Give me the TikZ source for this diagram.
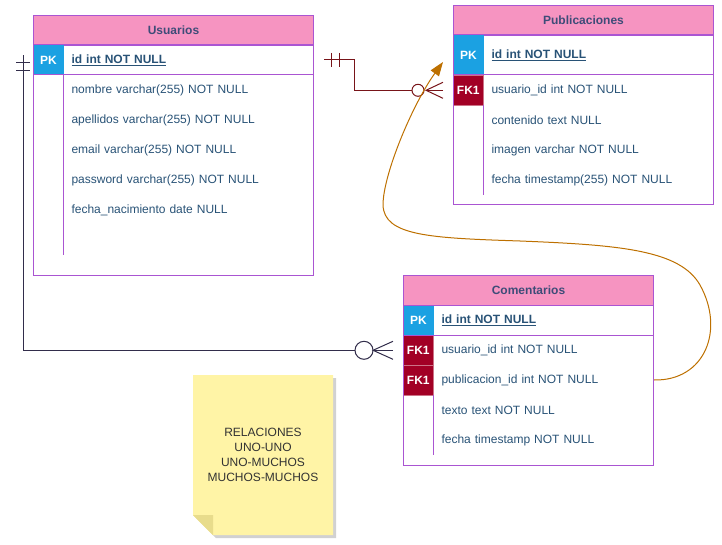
\documentclass[tikz,border=0pt]{standalone}
\usepackage{fontspec}
\setmainfont{Liberation Sans}
\usetikzlibrary{arrows.meta}

\definecolor{tabline}{RGB}{170,85,210}
\definecolor{headpink}{RGB}{246,148,193}
\definecolor{headtext}{RGB}{62,76,120}
\definecolor{rowtext}{RGB}{40,82,118}
\definecolor{pkblue}{RGB}{27,161,226}
\definecolor{fkred}{RGB}{162,0,37}
\definecolor{relred}{RGB}{120,20,25}
\definecolor{relnavy}{RGB}{50,45,75}
\definecolor{relorange}{RGB}{189,112,0}
\definecolor{notefill}{RGB}{255,244,166}
\definecolor{notefold}{RGB}{232,220,140}

\begin{document}
\begin{tikzpicture}[x=1pt, y=-1pt, line width=1pt,
    font=\fontsize{12}{15}\selectfont,
    tabhead/.style={anchor=north west, fill=headpink, draw=tabline, text=headtext,
        font=\fontsize{12}{15}\selectfont\bfseries, minimum height=30pt, inner sep=0pt},
    keycell/.style={anchor=north west, text=white, font=\fontsize{12}{15}\selectfont\bfseries,
        minimum width=30pt, minimum height=30pt, inner sep=0pt},
    pkcell/.style={keycell, fill=pkblue},
    fkcell/.style={keycell, fill=fkred, draw=fkred!55!white, line width=0.6pt},
    fieldrow/.style={anchor=west, text width=#1, align=left, inner xsep=8pt, inner ysep=0pt, text=rowtext},
    keyfield/.style={fieldrow=#1, font=\fontsize{12}{15}\selectfont\bfseries}
]

    % Fix the page to the size of the reference
    \useasboundingbox (0,0) rectangle (722,545);

    % Usuarios table
    \node[tabhead, minimum width=280pt] (usu) at (33,15) {Usuarios};
    \node[pkcell] (usu-pkkey) at (33,45) {PK};
    \node[keyfield=234pt] (usu-id) at (63,60) {\underline{id int NOT NULL}};
    \foreach \field [count=\i] in {nombre varchar(255) NOT NULL, apellidos varchar(255) NOT NULL,
        email varchar(255) NOT NULL, password varchar(255) NOT NULL, fecha\_nacimiento date NULL}
        \node[fieldrow=234pt] (usu-f\i) at (63,60+30*\i) {\field};
    \draw[tabline] (33,45) rectangle (313,275);
    \draw[tabline] (33,75) -- (313,75);
    \draw[tabline] (63,75) -- (63,255);

    % Publicaciones table
    \node[tabhead, minimum width=260pt] (pub) at (453,5) {Publicaciones};
    \node[pkcell, minimum height=40pt] (pub-pkkey) at (453,35) {PK};
    \node[keyfield=214pt] (pub-id) at (483,55) {\underline{id int NOT NULL}};
    \node[fkcell] (pub-fkkey) at (453,75) {FK1};
    \node[fieldrow=214pt] (pub-usuario) at (483,90) {usuario\_id int NOT NULL};
    \foreach \field [count=\i] in {contenido text NULL, imagen varchar NOT NULL, fecha timestamp(255) NOT NULL}
        \node[fieldrow=214pt] (pub-f\i) at (483,90+30*\i) {\field};
    \draw[tabline] (453,35) rectangle (713,205);
    \draw[tabline] (453,75) -- (713,75);
    \draw[tabline] (483,105) -- (483,195);

    % Comentarios table
    \node[tabhead, minimum width=250pt] (com) at (403,275) {Comentarios};
    \node[pkcell] (com-pkkey) at (403,305) {PK};
    \node[keyfield=204pt] (com-id) at (433,320) {\underline{id int NOT NULL}};
    \node[fkcell] (com-fkkey1) at (403,335) {FK1};
    \node[fkcell] (com-fkkey2) at (403,365) {FK1};
    \node[fieldrow=204pt] (com-usuario) at (433,350) {usuario\_id int NOT NULL};
    \node[fieldrow=204pt] (com-publicacion) at (433,380) {publicacion\_id int NOT NULL};
    \node[fieldrow=204pt] (com-texto) at (433,410) {texto text NOT NULL};
    \node[fieldrow=204pt] (com-fecha) at (433,440) {fecha timestamp NOT NULL};
    \draw[tabline] (403,305) rectangle (653,465);
    \draw[tabline] (403,335) -- (653,335);
    \draw[tabline] (433,395) -- (433,455);

    % Sticky note with folded corner
    \fill[black, opacity=0.18] (196,378) -- (336,378) -- (336,538) -- (216,538) -- (196,518) -- cycle;
    \fill[notefill] (193,375) -- (333,375) -- (333,535) -- (213,535) -- (193,515) -- cycle;
    \fill[notefold] (193,515) -- (213,515) -- (213,535) -- cycle;
    \node[align=center, text=black!80] (note) at (263,455) {RELACIONES\\UNO-UNO\\UNO-MUCHOS\\MUCHOS-MUCHOS};

    % Ends of the connectors near the tables
    \coordinate (pub-in) at ([xshift=-10pt]pub-fkkey.west);
    \coordinate (com-in) at ([xshift=-10pt]com-fkkey1.west);
    \coordinate (pub-tip) at (443,62);

    % Usuarios.id -> Publicaciones.usuario_id (one to zero-or-many)
    \draw[relred] ([xshift=10pt]usu-id.east) -- ++(30,0) |- ([xshift=-31pt]pub-in);
    \draw[relred] (usu-id.east) ++(17,-7) -- ++(0,14);
    \draw[relred] (usu-id.east) ++(25,-7) -- ++(0,14);
    \draw[relred] (pub-in) ++(-25,0) circle (6pt);
    \draw[relred] (pub-in) ++(0,-8) -- ++(-17,8) -- ++(17,8);
    \draw[relred] (pub-in) -- ++(-17,0);

    % Usuarios.id -> Comentarios.usuario_id (one to zero-or-many)
    \draw[relnavy] ([shift={(-10,-5)}]usu-pkkey.west) |- ([xshift=-38pt]com-in);
    \draw[relnavy] ([shift={(-17,2)}]usu-pkkey.west) -- ++(14,0);
    \draw[relnavy] ([shift={(-17,10)}]usu-pkkey.west) -- ++(14,0);
    \draw[relnavy] (com-in) ++(-29,0) circle (9pt);
    \draw[relnavy] (com-in) ++(0,-9) -- ++(-20,9) -- ++(20,9);
    \draw[relnavy] (com-in) -- ++(-20,0);

    % Comentarios.publicacion_id -> Publicaciones
    \draw[relorange, -{Triangle[length=14pt,width=10pt]}] (com-publicacion.east)
        .. controls (705,381) and (725,330) .. (700,285)
        .. controls (680,250) and (620,245) .. (520,241)
        .. controls (430,238) and (384,236) .. (383,205)
        .. controls (383,175) and (412,105) .. (pub-tip);

\end{tikzpicture}
\end{document}
